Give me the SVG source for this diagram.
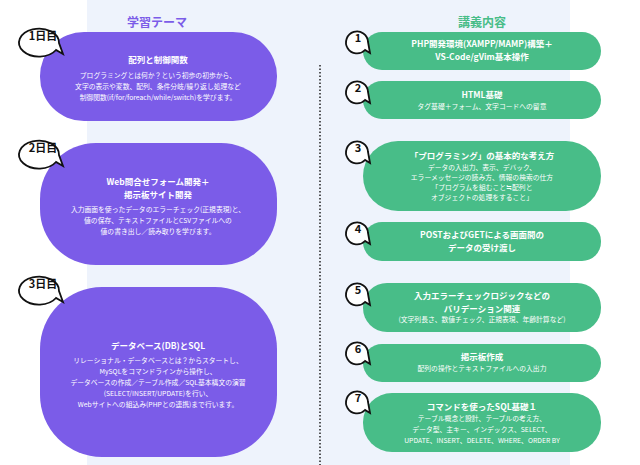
<svg xmlns="http://www.w3.org/2000/svg" width="640" height="465" viewBox="0 0 640 465">
<style>
text{font-family:"Noto Sans CJK JP","Noto Sans",sans-serif;text-anchor:middle;fill:#fff}
.p{fill:#7b5ce8}.g{fill:#48bd88}
.h{font-size:8.5px;font-weight:bold}.b{font-size:6.8px}
.bub{fill:#fff;stroke:#111;stroke-width:1.8}
.lbl{fill:#111;font-weight:bold;font-size:11px}
</style>
<rect x="87" y="0" width="483" height="465" fill="#eef3fc"/>
<line x1="320" y1="65" x2="320" y2="465" stroke="#222" stroke-width="1.5" stroke-dasharray="1.5,2"/>
<text x="157" y="27" font-size="12" font-weight="bold" style="fill:#7b5ce8">学習テーマ</text>
<text x="482" y="27" font-size="12" font-weight="bold" style="fill:#48bd88">講義内容</text>
<g id="day1"><rect class="p" x="40" y="32" width="237" height="89" rx="44"/>
<path class="bub" d="M59 43a20 14 0 1 0-3 7l7 4z"/><text class="lbl" x="43" y="40">1日目</text>
<text class="h" x="158" y="63">配列と制御関数</text>
<text class="b" x="158" y="78">プログラミングとは何か？という初歩の初歩から、</text>
<text class="b" x="158" y="89">文字の表示や変数、配列、条件分岐/繰り返し処理など</text>
<text class="b" x="158" y="100">制御関数(if/for/foreach/while/switch)を学びます。</text></g>
<g id="day2"><rect class="p" x="40" y="143" width="237" height="122" rx="56"/>
<path class="bub" d="M59 155a20 14 0 1 0-3 7l7 4z"/><text class="lbl" x="43" y="152">2日目</text>
<text class="h" x="158" y="185">Web問合せフォーム開発＋</text>
<text class="h" x="158" y="198">掲示板サイト開発</text>
<text class="b" x="158" y="212">入力画面を使ったデータのエラーチェック(正規表現)と、</text>
<text class="b" x="158" y="223">値の保存、テキストファイルとCSVファイルへの</text>
<text class="b" x="158" y="234">値の書き出し／読み取りを学びます。</text></g>
<g id="day3"><rect class="p" x="40" y="287" width="237" height="170" rx="62"/>
<path class="bub" d="M59 291a20 14 0 1 0-3 7l7 4z"/><text class="lbl" x="43" y="288">3日目</text>
<text class="h" x="158" y="349">データベース(DB)とSQL</text>
<text class="b" x="158" y="363">リレーショナル・データベースとは？からスタートし、</text>
<text class="b" x="158" y="374">MySQLをコマンドラインから操作し、</text>
<text class="b" x="158" y="385">データベースの作成／テーブル作成／SQL基本構文の演習</text>
<text class="b" x="158" y="396">(SELECT/INSERT/UPDATE)を行い、</text>
<text class="b" x="158" y="407">Webサイトへの組込み(PHPとの連携)まで行います。</text></g>
<g id="l1"><rect class="g" x="363" y="32" width="238" height="38" rx="19"/>
<path class="bub" d="M368 42a11 11 0 1 0-3 8l5 3z"/><text class="lbl" x="358" y="42">1</text>
<text class="h" x="482" y="47">PHP開発環境(XAMPP/MAMP)構築＋</text>
<text class="h" x="482" y="60">VS-Code/gVim基本操作</text></g>
<g id="l2"><rect class="g" x="363" y="81" width="238" height="38" rx="19"/>
<path class="bub" d="M368 92a11 11 0 1 0-3 8l5 3z"/><text class="lbl" x="358" y="92">2</text>
<text class="h" x="482" y="98">HTML基礎</text>
<text class="b" x="482" y="109">タグ基礎＋フォーム、文字コードへの留意</text></g>
<g id="l3"><rect class="g" x="363" y="141" width="238" height="70" rx="35"/>
<path class="bub" d="M368 152a11 11 0 1 0-3 8l5 3z"/><text class="lbl" x="358" y="152">3</text>
<text class="h" x="482" y="159">「プログラミング」の基本的な考え方</text>
<text class="b" x="482" y="170">データの入出力、表示、デバック、</text>
<text class="b" x="482" y="180">エラーメッセージの読み方、情報の検索の仕方</text>
<text class="b" x="482" y="190">「プログラムを組むこと≒配列と</text>
<text class="b" x="482" y="200">オブジェクトの処理をすること」</text></g>
<g id="l4"><rect class="g" x="363" y="222" width="238" height="39" rx="19"/>
<path class="bub" d="M368 233a11 11 0 1 0-3 8l5 3z"/><text class="lbl" x="358" y="233">4</text>
<text class="h" x="482" y="238">POSTおよびGETによる画面間の</text>
<text class="h" x="482" y="251">データの受け渡し</text></g>
<g id="l5"><rect class="g" x="363" y="283" width="238" height="49" rx="24"/>
<path class="bub" d="M368 294a11 11 0 1 0-3 8l5 3z"/><text class="lbl" x="358" y="294">5</text>
<text class="h" x="482" y="299">入力エラーチェックロジックなどの</text>
<text class="h" x="482" y="312">バリデーション関連</text>
<text class="b" x="482" y="322">(文字列長さ、数値チェック、正規表現、年齢計算など)</text></g>
<g id="l6"><rect class="g" x="363" y="344" width="238" height="38" rx="19"/>
<path class="bub" d="M368 353a11 11 0 1 0-3 8l5 3z"/><text class="lbl" x="358" y="353">6</text>
<text class="h" x="482" y="360">掲示板作成</text>
<text class="b" x="482" y="371">配列の操作とテキストファイルへの入出力</text></g>
<g id="l7"><rect class="g" x="363" y="393" width="238" height="59" rx="29"/>
<path class="bub" d="M368 402a11 11 0 1 0-3 8l5 3z"/><text class="lbl" x="358" y="402">7</text>
<text class="h" x="482" y="410">コマンドを使ったSQL基礎１</text>
<text class="b" x="482" y="421">テーブル概念と設計、テーブルの考え方、</text>
<text class="b" x="482" y="432">データ型、主キー、インデックス、SELECT、</text>
<text class="b" x="482" y="443">UPDATE、INSERT、DELETE、WHERE、ORDER BY</text></g>
</svg>
